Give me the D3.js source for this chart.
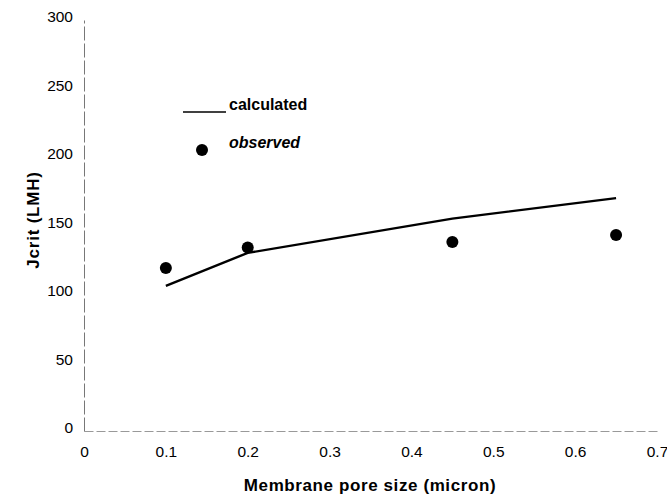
<!DOCTYPE html>
<html>
<head>
<meta charset="utf-8">
<script src="https://cdn.jsdelivr.net/npm/d3@7"></script>
<style>
  body { margin: 0; background: #fff; }
  text { font-family: "Liberation Sans", Arial, sans-serif; fill: #000; }
</style>
</head>
<body>
<div id="chart_container"></div>
<script>
// data
const poreSizes = [0.1, 0.2, 0.45, 0.65];
const calculated = [106, 130, 155, 170];
const observed = [119, 134, 138, 143];
const xTicks = [0, 0.1, 0.2, 0.3, 0.4, 0.5, 0.6, 0.7];
const yTicks = [0, 50, 100, 150, 200, 250, 300];

const width = 667, height = 499;
const margin = {top: 20, right: 10, bottom: 68, left: 84};

const svg = d3.select("#chart_container")
    .append("svg")
    .attr("width", width)
    .attr("height", height);

const x = d3.scaleLinear().domain([0, 0.7]).range([margin.left, 657]);
const y = d3.scaleLinear().domain([0, 300]).range([431, margin.top]);

// X axis
const xAxis = svg.append("g")
    .attr("transform", `translate(0,${y(0)})`)
    .call(d3.axisBottom(x).tickValues(xTicks).tickSize(0).tickPadding(15)
        .tickFormat(d => d === 0 ? "0" : d3.format(".1f")(d)));
xAxis.select(".domain").attr("stroke", "#999").attr("stroke-dasharray", "9,3");
xAxis.selectAll("text").attr("font-size", "15.5px").attr("font-family", "Liberation Sans, Arial, sans-serif");

// Y axis
const yAxis = svg.append("g")
    .attr("transform", `translate(${x(0)},0)`)
    .call(d3.axisLeft(y).tickValues(yTicks).tickSize(0).tickPadding(11));
yAxis.select(".domain").attr("stroke", "#777").attr("stroke-dasharray", "14,3");
yAxis.selectAll("text").attr("font-size", "15.5px").attr("dy", "0.1em")
    .attr("font-family", "Liberation Sans, Arial, sans-serif");

// axis titles
svg.append("text")
    .attr("x", 370)
    .attr("y", 491)
    .attr("text-anchor", "middle")
    .attr("font-size", "17px")
    .attr("font-weight", "bold")
    .attr("letter-spacing", "0.6px")
    .text("Membrane pore size (micron)");

svg.append("text")
    .attr("transform", "translate(39,220) rotate(-90)")
    .attr("text-anchor", "middle")
    .attr("font-size", "17px")
    .attr("font-weight", "bold")
    .attr("letter-spacing", "0.8px")
    .text("Jcrit (LMH)");

// calculated line
const line = d3.line()
    .x((d, i) => x(poreSizes[i]))
    .y(d => y(d));

svg.append("path")
    .datum(calculated)
    .attr("fill", "none")
    .attr("stroke", "#000")
    .attr("stroke-width", 2.4)
    .attr("d", line);

// observed dots
svg.append("g")
    .selectAll("circle")
    .data(observed)
    .enter()
    .append("circle")
    .attr("cx", (d, i) => x(poreSizes[i]))
    .attr("cy", d => y(d))
    .attr("r", 6)
    .attr("fill", "#000");

// legend
svg.append("line")
    .attr("x1", 183).attr("x2", 226)
    .attr("y1", 112).attr("y2", 112)
    .attr("stroke", "#000").attr("stroke-width", 1.5);
svg.append("text")
    .attr("x", 229).attr("y", 110)
    .attr("font-size", "16px").attr("font-weight", "bold")
    .text("calculated");
svg.append("circle")
    .attr("cx", 202).attr("cy", 150).attr("r", 6)
    .attr("fill", "#000");
svg.append("text")
    .attr("x", 229).attr("y", 148)
    .attr("font-size", "16px").attr("font-weight", "bold").attr("font-style", "italic")
    .text("observed");
</script>
</body>
</html>
